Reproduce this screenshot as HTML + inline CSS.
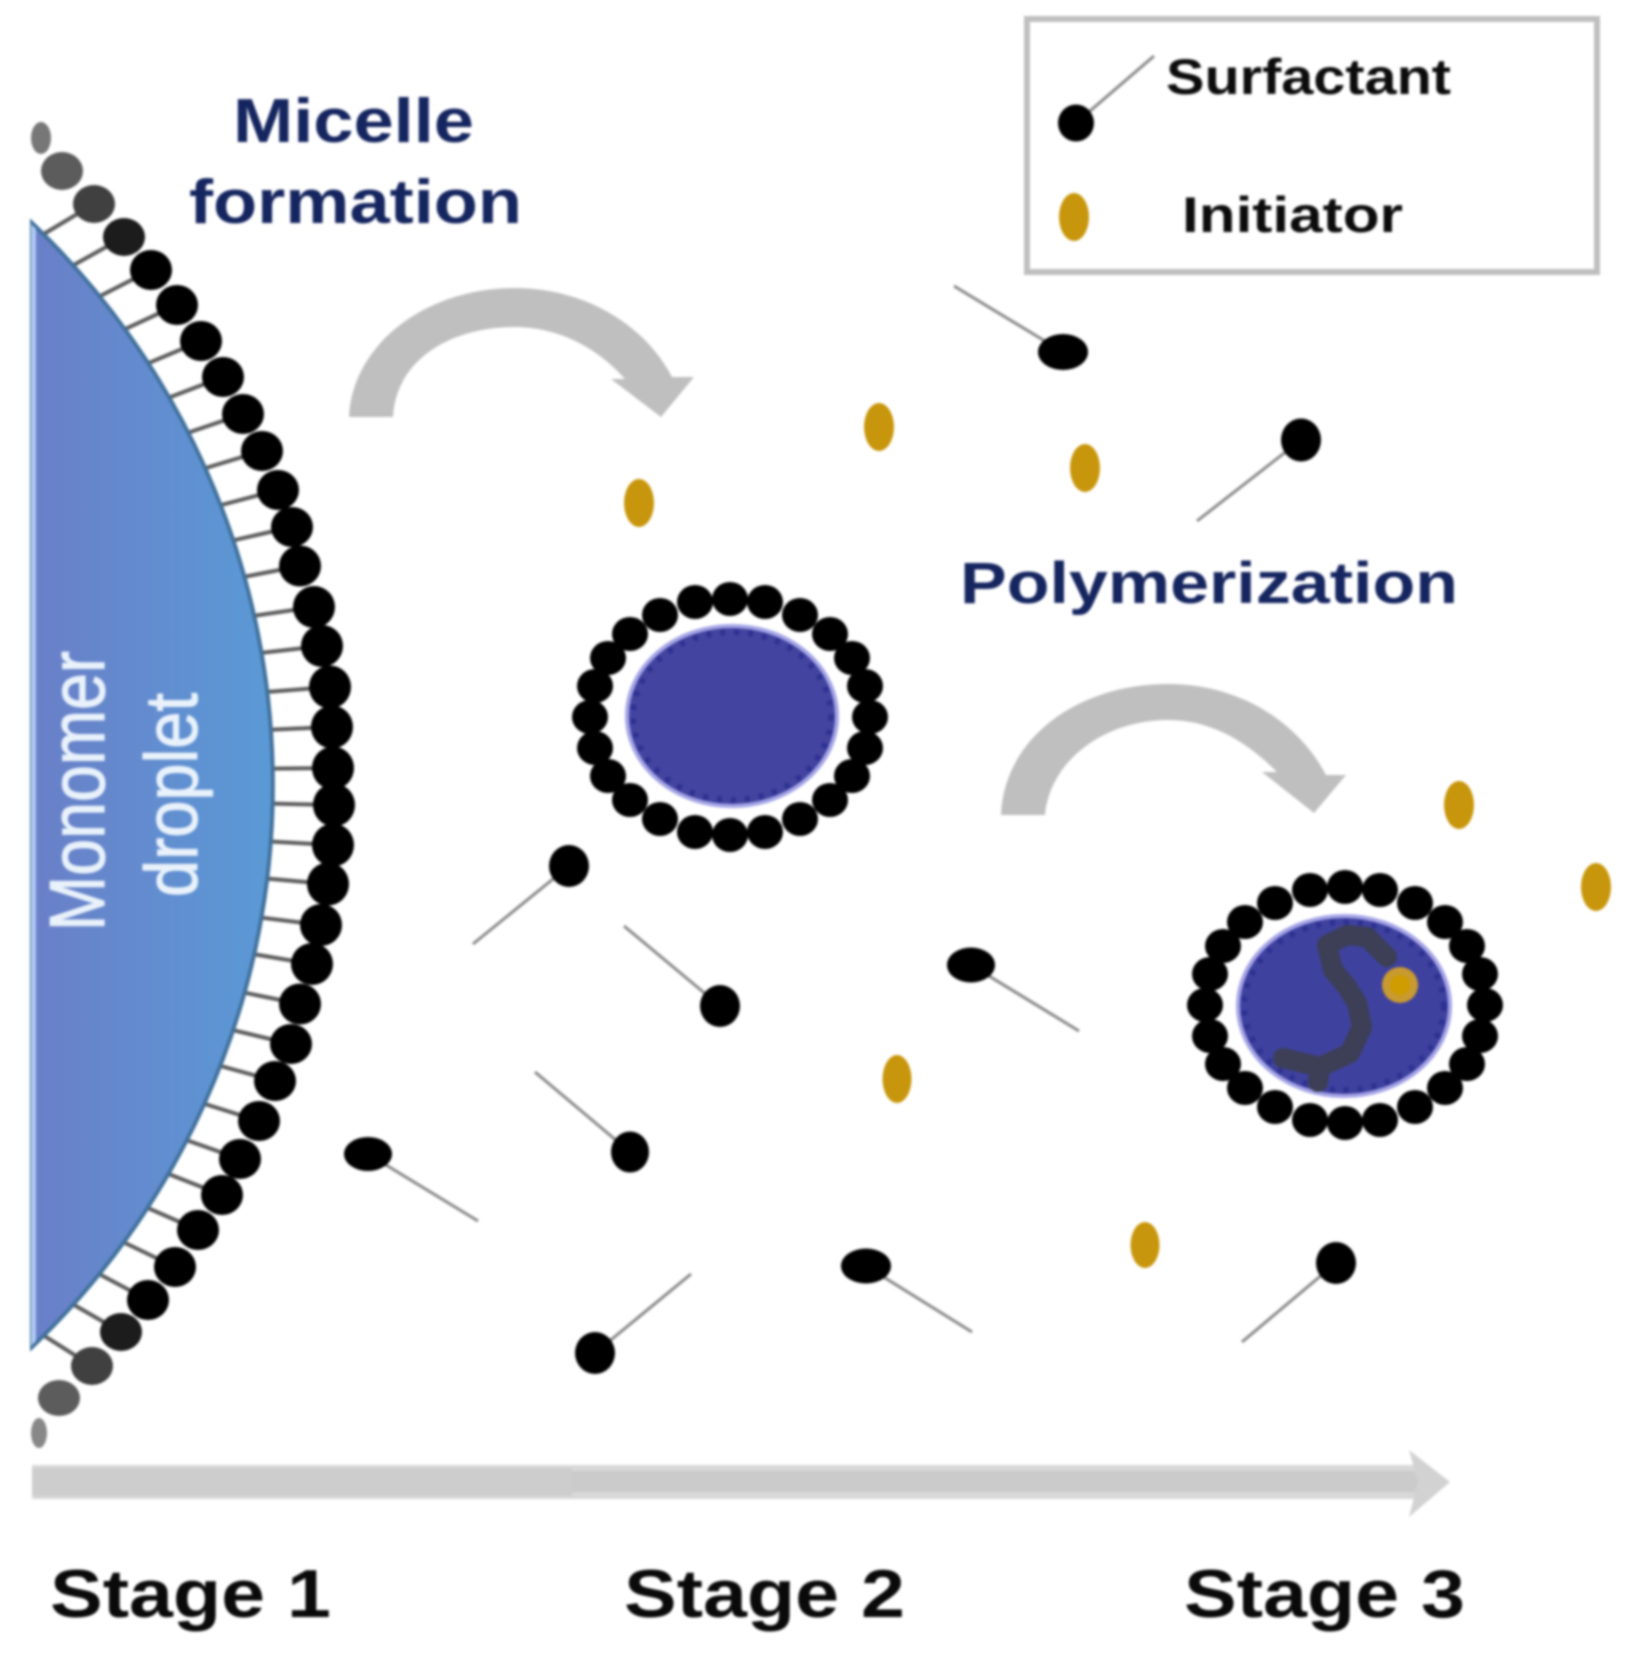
<!DOCTYPE html>
<html><head><meta charset="utf-8"><style>
html,body{margin:0;padding:0;background:#fff;width:1629px;height:1665px;overflow:hidden}
svg{display:block;filter:blur(1.2px)}
text{font-family:"Liberation Sans",sans-serif}
</style></head><body>
<svg xmlns="http://www.w3.org/2000/svg" width="1629" height="1665" viewBox="0 0 1629 1665">
<defs>
<linearGradient id="dg" x1="0" x2="1" y1="0" y2="0"><stop offset="0" stop-color="#6a7fc8"/><stop offset="1" stop-color="#5a9ad6"/></linearGradient>
<clipPath id="cl"><rect x="31" y="0" width="1000" height="1665"/></clipPath>
<g id="ring" fill="#000">
<ellipse cx="-140" cy="0" rx="18" ry="17"/><ellipse cx="140" cy="0" rx="18" ry="17"/>
<ellipse cx="-135" cy="-31" rx="18" ry="17"/><ellipse cx="135" cy="-31" rx="18" ry="17"/>
<ellipse cx="-135" cy="31" rx="18" ry="17"/><ellipse cx="135" cy="31" rx="18" ry="17"/>
<ellipse cx="-122" cy="-59" rx="18" ry="17"/><ellipse cx="122" cy="-59" rx="18" ry="17"/>
<ellipse cx="-122" cy="59" rx="18" ry="17"/><ellipse cx="122" cy="59" rx="18" ry="17"/>
<ellipse cx="-100" cy="-83" rx="18" ry="17"/><ellipse cx="100" cy="-83" rx="18" ry="17"/>
<ellipse cx="-100" cy="83" rx="18" ry="17"/><ellipse cx="100" cy="83" rx="18" ry="17"/>
<ellipse cx="-70" cy="-102" rx="18" ry="17"/><ellipse cx="70" cy="-102" rx="18" ry="17"/>
<ellipse cx="-70" cy="102" rx="18" ry="17"/><ellipse cx="70" cy="102" rx="18" ry="17"/>
<ellipse cx="-35" cy="-115" rx="18" ry="17"/><ellipse cx="35" cy="-115" rx="18" ry="17"/>
<ellipse cx="-35" cy="115" rx="18" ry="17"/><ellipse cx="35" cy="115" rx="18" ry="17"/>
<ellipse cx="0" cy="-118" rx="18" ry="17"/><ellipse cx="0" cy="118" rx="18" ry="17"/>
</g>
</defs>
<rect width="1629" height="1665" fill="#fff"/>

<!-- droplet surfactant layer -->
<g clip-path="url(#cl)">
<g stroke="#5c5c5c" stroke-width="4">
<line x1="94" y1="204" x2="17" y2="250"/>
<line x1="124" y1="237" x2="45" y2="281"/><line x1="151" y1="270" x2="71" y2="311"/>
<line x1="177" y1="305" x2="95" y2="343"/><line x1="201" y1="341" x2="118" y2="376"/>
<line x1="223" y1="377" x2="139" y2="409"/><line x1="243" y1="414" x2="158" y2="443"/>
<line x1="262" y1="451" x2="176" y2="477"/><line x1="278" y1="490" x2="191" y2="513"/>
<line x1="292" y1="527" x2="204" y2="547"/><line x1="300" y1="566" x2="212" y2="583"/>
<line x1="314" y1="607" x2="225" y2="620"/><line x1="322" y1="646" x2="233" y2="656"/>
<line x1="330" y1="687" x2="240" y2="694"/><line x1="332" y1="727" x2="242" y2="731"/>
<line x1="333" y1="768" x2="243" y2="769"/><line x1="334" y1="805" x2="244" y2="803"/>
<line x1="333" y1="845" x2="243" y2="840"/><line x1="328" y1="884" x2="238" y2="876"/>
<line x1="321" y1="925" x2="232" y2="914"/><line x1="312" y1="964" x2="223" y2="949"/>
<line x1="300" y1="1004" x2="212" y2="986"/><line x1="291" y1="1044" x2="203" y2="1023"/>
<line x1="275" y1="1081" x2="188" y2="1057"/><line x1="259" y1="1121" x2="173" y2="1094"/>
<line x1="240" y1="1159" x2="155" y2="1129"/><line x1="222" y1="1195" x2="138" y2="1162"/>
<line x1="198" y1="1230" x2="116" y2="1194"/><line x1="175" y1="1267" x2="94" y2="1228"/>
<line x1="148" y1="1300" x2="69" y2="1258"/><line x1="121" y1="1332" x2="43" y2="1287"/>
<line x1="92" y1="1366" x2="16" y2="1318"/>
</g>
<g fill="#000">
<ellipse cx="151" cy="270" rx="21" ry="20"/><ellipse cx="177" cy="305" rx="21" ry="20"/>
<ellipse cx="201" cy="341" rx="21" ry="20"/><ellipse cx="223" cy="377" rx="21" ry="20"/>
<ellipse cx="243" cy="414" rx="21" ry="20"/><ellipse cx="262" cy="451" rx="21" ry="20"/>
<ellipse cx="278" cy="490" rx="21" ry="20"/><ellipse cx="292" cy="527" rx="21" ry="20"/>
<ellipse cx="300" cy="566" rx="21" ry="20.5"/><ellipse cx="314" cy="607" rx="21" ry="21"/>
<ellipse cx="322" cy="646" rx="21" ry="21"/><ellipse cx="330" cy="687" rx="21" ry="21.5"/>
<ellipse cx="332" cy="727" rx="21" ry="21.5"/><ellipse cx="333" cy="768" rx="21" ry="21.5"/>
<ellipse cx="334" cy="805" rx="21" ry="21.5"/><ellipse cx="333" cy="845" rx="21" ry="21.5"/>
<ellipse cx="328" cy="884" rx="21" ry="21.5"/><ellipse cx="321" cy="925" rx="21" ry="21"/>
<ellipse cx="312" cy="964" rx="21" ry="21"/><ellipse cx="300" cy="1004" rx="21" ry="20.5"/>
<ellipse cx="291" cy="1044" rx="21" ry="20"/><ellipse cx="275" cy="1081" rx="21" ry="20"/>
<ellipse cx="259" cy="1121" rx="21" ry="20"/><ellipse cx="240" cy="1159" rx="21" ry="20"/>
<ellipse cx="222" cy="1195" rx="21" ry="20"/><ellipse cx="198" cy="1230" rx="21" ry="20"/>
<ellipse cx="175" cy="1267" rx="21" ry="20"/><ellipse cx="148" cy="1300" rx="21" ry="20"/>
<ellipse cx="121" cy="1332" rx="21" ry="19" fill="#1c1c1c"/>
<ellipse cx="124" cy="237" rx="21" ry="19" fill="#1c1c1c"/>
<ellipse cx="94" cy="204" rx="21" ry="19" fill="#404040"/>
<ellipse cx="92" cy="1366" rx="21" ry="19" fill="#404040"/>
<ellipse cx="62" cy="171" rx="21" ry="19" fill="#5c5c5c"/>
<ellipse cx="59" cy="1398" rx="21" ry="18" fill="#5c5c5c"/>
<ellipse cx="41" cy="138" rx="10" ry="16" fill="#777"/>
<ellipse cx="39" cy="1433" rx="8" ry="15" fill="#888"/>
</g>
</g>

<!-- droplet -->
<path d="M32,223 A776,776 0 0 1 32,1347 Z" fill="url(#dg)" stroke="#41719c" stroke-width="4"/>
<path d="M31,224 L36,229 L36,1341 L31,1346 Z" fill="#b0c8f5"/>
<g fill="#e9f2fb" stroke="#e9f2fb" stroke-width="1.2">
<text transform="translate(104,931) rotate(-90)" font-size="78" textLength="280" lengthAdjust="spacingAndGlyphs">Monomer</text>
<text transform="translate(197,897) rotate(-90)" font-size="74" textLength="204" lengthAdjust="spacingAndGlyphs">droplet</text>
</g>

<!-- headings -->
<g font-weight="bold" fill="#15255f">
<text x="233" y="142" font-size="62" textLength="241" lengthAdjust="spacingAndGlyphs">Micelle</text>
<text x="189" y="223" font-size="62" textLength="333" lengthAdjust="spacingAndGlyphs">formation</text>
<text x="960" y="603" font-size="58" textLength="498" lengthAdjust="spacingAndGlyphs">Polymerization</text>
</g>

<!-- curved arrows -->
<path d="M349,417 C352,345 425,288 515,288 C585,288 645,325 672,377 L694,377 L661,417 L611,379 L625,379 C595,345 555,327 515,327 C450,327 396,360 393,417 Z" fill="#bfbfbf"/>
<path d="M1001,815 C1004,738 1078,684 1168,684 C1240,684 1298,722 1326,775 L1346,775 L1314,813 L1262,772 L1277,772 C1245,740 1210,720 1168,720 C1105,720 1050,760 1045,815 Z" fill="#bfbfbf"/>

<!-- legend -->
<rect x="1027" y="19" width="570" height="253" fill="#fff" stroke="#bfbfbf" stroke-width="6"/>
<line x1="1076" y1="123" x2="1154" y2="56" stroke="#8a8a8a" stroke-width="3"/>
<ellipse cx="1076" cy="123" rx="18" ry="18.5" fill="#000"/>
<ellipse cx="1074" cy="217" rx="15" ry="24" fill="#c8960c"/>
<g font-weight="bold" fill="#0c0c0c" font-size="50">
<text x="1166" y="94" textLength="285" lengthAdjust="spacingAndGlyphs">Surfactant</text>
<text x="1182" y="232" textLength="221" lengthAdjust="spacingAndGlyphs">Initiator</text>
</g>

<!-- free surfactants -->
<g stroke="#8a8a8a" stroke-width="3">
<line x1="1063" y1="352" x2="954" y2="286"/>
<line x1="1301" y1="440" x2="1197" y2="521"/>
<line x1="569" y1="866" x2="473" y2="944"/>
<line x1="720" y1="1006" x2="624" y2="926"/>
<line x1="630" y1="1152" x2="535" y2="1072"/>
<line x1="368" y1="1154" x2="478" y2="1221"/>
<line x1="595" y1="1353" x2="691" y2="1274"/>
<line x1="971" y1="965" x2="1079" y2="1031"/>
<line x1="866" y1="1266" x2="972" y2="1332"/>
<line x1="1336" y1="1263" x2="1242" y2="1342"/>
</g>
<g fill="#000">
<ellipse cx="1063" cy="352" rx="25" ry="18"/>
<ellipse cx="1301" cy="440" rx="20" ry="21.5"/>
<ellipse cx="569" cy="866" rx="20" ry="21"/>
<ellipse cx="720" cy="1006" rx="20" ry="21"/>
<ellipse cx="630" cy="1152" rx="19" ry="20.5"/>
<ellipse cx="368" cy="1154" rx="24" ry="17"/>
<ellipse cx="595" cy="1353" rx="20" ry="21"/>
<ellipse cx="971" cy="965" rx="24" ry="17.5"/>
<ellipse cx="866" cy="1266" rx="25" ry="17.5"/>
<ellipse cx="1336" cy="1263" rx="20" ry="21"/>
</g>

<!-- initiators -->
<g fill="#c8960c">
<ellipse cx="639" cy="503" rx="15" ry="24"/>
<ellipse cx="879" cy="427" rx="15" ry="24"/>
<ellipse cx="1085" cy="468" rx="15" ry="24"/>
<ellipse cx="1459" cy="805" rx="15" ry="24"/>
<ellipse cx="1596" cy="887" rx="15" ry="24"/>
<ellipse cx="897" cy="1079" rx="14.5" ry="24"/>
<ellipse cx="1145" cy="1245" rx="14.5" ry="23"/>
</g>

<!-- micelle 1 -->
<use href="#ring" x="730" y="717"/>
<ellipse cx="732" cy="716" rx="105" ry="90" fill="#43449f" stroke="#a4a4e6" stroke-width="4"/>
<ellipse cx="732" cy="716" rx="99" ry="84" fill="none" stroke="#2f3192" stroke-width="6" stroke-dasharray="5 9"/>

<!-- micelle 2 -->
<use href="#ring" x="1345" y="1005"/>
<ellipse cx="1344" cy="1006" rx="106" ry="90" fill="#3f419f" stroke="#a4a4e6" stroke-width="4"/>
<ellipse cx="1344" cy="1006" rx="100" ry="84" fill="none" stroke="#2f3192" stroke-width="6" stroke-dasharray="5 9"/>
<path d="M1387,957 L1367,937 L1347,935 L1327,945 L1333,970 L1347,987 L1357,1003 L1362,1027 L1350,1053 L1320,1067 L1283,1058 M1320,1067 L1318,1082" fill="none" stroke="#3c3f55" stroke-width="20" stroke-linejoin="round" stroke-linecap="round"/>
<ellipse cx="1400" cy="985" rx="18" ry="18" fill="#c89a30"/>
<ellipse cx="1400" cy="985" rx="10" ry="10" fill="#cf9d00"/>

<!-- time arrow -->
<rect x="32" y="1465" width="1388" height="34" fill="#d8d8d8"/>
<rect x="32" y="1468" width="540" height="28" fill="#cdcdcd"/>
<rect x="572" y="1471" width="848" height="21" fill="#cbcbcb"/>
<path d="M1409,1450 L1450,1482 L1409,1517 L1418,1482 Z" fill="#d2d2d2"/>

<!-- stage labels -->
<g font-weight="bold" fill="#0a0a0a" font-size="68">
<text x="50" y="1617" textLength="281" lengthAdjust="spacingAndGlyphs">Stage 1</text>
<text x="624" y="1617" textLength="281" lengthAdjust="spacingAndGlyphs">Stage 2</text>
<text x="1184" y="1617" textLength="281" lengthAdjust="spacingAndGlyphs">Stage 3</text>
</g>
</svg>
</body></html>
